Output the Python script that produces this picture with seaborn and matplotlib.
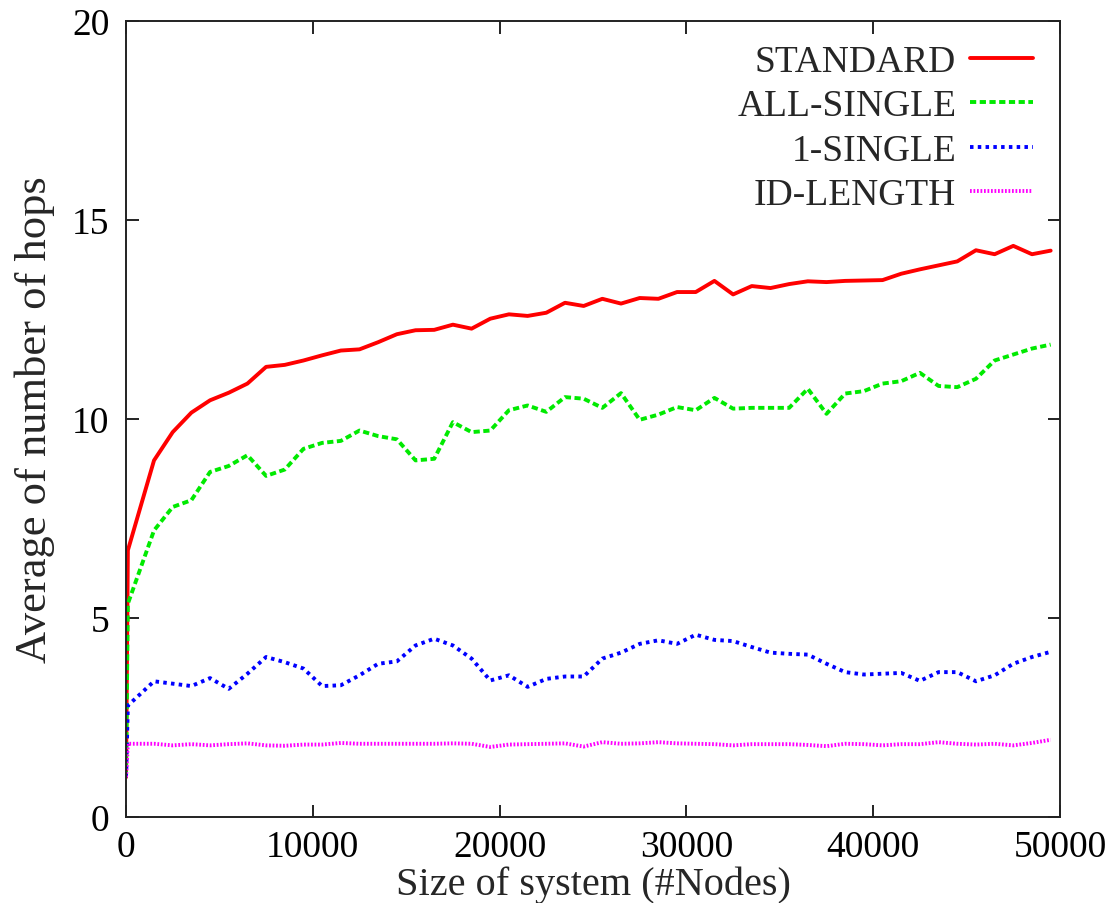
import matplotlib
matplotlib.use("Agg")
import matplotlib.pyplot as plt
import seaborn as sns
import pandas as pd

# System sizes (#nodes) at which the average hop count was measured
sizes = [1, 100, 1500, 2500, 3500, 4500, 5500, 6500, 7500, 8500, 9500,
         10500, 11500, 12500, 13500, 14500, 15500, 16500, 17500, 18500, 19500,
         20500, 21500, 22500, 23500, 24500, 25500, 26500, 27500, 28500, 29500,
         30500, 31500, 32500, 33500, 34500, 35500, 36500, 37500, 38500, 39500,
         40500, 41500, 42500, 43500, 44500, 45500, 46500, 47500, 48500, 49500]

standard = [1.0, 6.70, 8.96, 9.67, 10.16, 10.47, 10.66, 10.89, 11.31, 11.36, 11.47,
            11.60, 11.72, 11.75, 11.93, 12.13, 12.23, 12.24, 12.37, 12.27, 12.52,
            12.63, 12.59, 12.67, 12.92, 12.84, 13.02, 12.90, 13.04, 13.02, 13.19,
            13.19, 13.47, 13.13, 13.34, 13.29, 13.39, 13.46, 13.44, 13.47, 13.48,
            13.49, 13.65, 13.76, 13.86, 13.96, 14.24, 14.14, 14.35, 14.14, 14.23]

all_single = [1.0, 5.36, 7.20, 7.79, 7.96, 8.67, 8.82, 9.09, 8.57, 8.73, 9.25,
              9.40, 9.45, 9.71, 9.57, 9.49, 8.96, 9.00, 9.92, 9.67, 9.71,
              10.22, 10.34, 10.18, 10.55, 10.51, 10.28, 10.65, 9.98, 10.11, 10.30,
              10.22, 10.53, 10.26, 10.28, 10.28, 10.28, 10.76, 10.13, 10.64, 10.70,
              10.89, 10.95, 11.16, 10.83, 10.80, 11.01, 11.47, 11.62, 11.77, 11.87]

one_single = [1.0, 2.80, 3.41, 3.35, 3.29, 3.49, 3.22, 3.60, 4.02, 3.89, 3.73,
              3.29, 3.31, 3.56, 3.85, 3.91, 4.31, 4.48, 4.31, 3.98, 3.43,
              3.56, 3.27, 3.47, 3.53, 3.53, 3.98, 4.13, 4.35, 4.44, 4.35,
              4.58, 4.45, 4.42, 4.27, 4.13, 4.10, 4.08, 3.85, 3.64, 3.58,
              3.60, 3.62, 3.42, 3.64, 3.64, 3.41, 3.56, 3.85, 4.02, 4.15]

id_length = [1.0, 1.84, 1.84, 1.80, 1.83, 1.80, 1.83, 1.85, 1.80, 1.79, 1.82,
             1.82, 1.86, 1.84, 1.84, 1.84, 1.84, 1.84, 1.85, 1.84, 1.76,
             1.82, 1.83, 1.84, 1.85, 1.77, 1.88, 1.84, 1.85, 1.88, 1.85,
             1.84, 1.83, 1.80, 1.83, 1.83, 1.83, 1.81, 1.78, 1.84, 1.83,
             1.80, 1.83, 1.83, 1.88, 1.84, 1.82, 1.84, 1.80, 1.86, 1.94]

series_names = ["STANDARD", "ALL-SINGLE", "1-SINGLE", "ID-LENGTH"]
series_values = [standard, all_single, one_single, id_length]
series_colors = ["#ff0000", "#00ea00", "#0000ff", "#ff00ff"]
series_styles = ["-", (0, (1.6, 0.9)), (0, (0.9, 1.1)), (0, (0.45, 0.45))]
series_widths = [2.8, 2.8, 2.8, 2.8]

x_ticks = [0, 10000, 20000, 30000, 40000, 50000]
y_ticks = [0, 5, 10, 15, 20]

sns.set_theme(style="ticks")
plt.rcParams["font.family"] = ["Liberation Serif", "DejaVu Serif"]
plt.rcParams["axes.linewidth"] = 1.4
plt.rcParams["axes.edgecolor"] = "#222222"

fig = plt.figure(figsize=(11.17, 9.04), dpi=100)
ax = fig.add_axes([126 / 1117, 1 - 818 / 904, (1060 - 126) / 1117, (818 - 22) / 904])

for name, vals, col, ls, lw in zip(series_names, series_values, series_colors,
                                   series_styles, series_widths):
    df = pd.DataFrame({"nodes": sizes, "hops": vals})
    sns.lineplot(data=df, x="nodes", y="hops", ax=ax, color=col,
                 linestyle=ls, linewidth=lw, label=name)

ax.set_xlim(0, 50000)
ax.set_ylim(0, 20)
ax.set_xticks(x_ticks)
ax.set_yticks(y_ticks)
ax.set_xticklabels([str(t) for t in x_ticks])
ax.set_yticklabels([str(t) for t in y_ticks])
ax.tick_params(axis="both", which="major", direction="in", length=9, width=1.4,
               top=True, right=True, labelsize=27, colors="#222222",
               labelcolor="black")
ax.tick_params(axis="x", pad=9)
ax.tick_params(axis="y", pad=12)

for side in ["top", "right", "bottom", "left"]:
    ax.spines[side].set_visible(True)

ax.set_xlabel("Size of system (#Nodes)", fontsize=29, labelpad=1)
ax.set_ylabel("Average of number of hops", fontsize=32, labelpad=12)

handles, labels = ax.get_legend_handles_labels()
ax.legend(handles, labels, loc="upper right", frameon=False, markerfirst=False,
          fontsize=27, handlelength=1.68, handletextpad=0.37, labelspacing=0.26,
          borderaxespad=0.23, bbox_to_anchor=(0.9965, 1.0))

fig.savefig("out.png", dpi=100)
